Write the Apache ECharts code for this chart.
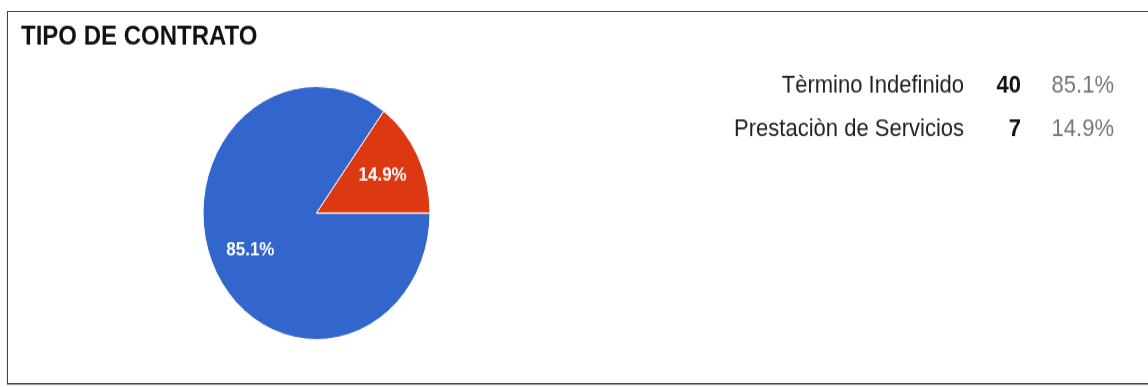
<!DOCTYPE html>
<html>
<head>
<meta charset="utf-8">
<script src="https://cdn.jsdelivr.net/npm/echarts@6/dist/echarts.min.js"></script>
<style>
  html, body { margin: 0; padding: 0; background: #fff; }
  #frame { position: absolute; left: 7px; top: 11px; width: 1160px; height: 371px; border: 1px solid #444; box-shadow: 0 1px 1px #999; }
  #pie { position: absolute; left: 0; top: 0; width: 1148px; height: 347px; transform: scaleY(1.1153); transform-origin: 0 0; }
</style>
</head>
<body>
<div id="frame"></div>
<div id="pie"></div>
<script>
var categories = ['Tèrmino Indefinido', 'Prestaciòn de Servicios'];
var counts = [40, 7];
var colors = ['#3366cc', '#dc3912'];

var total = counts.reduce((a, b) => a + b, 0);
var pct = counts.map(v => (v / total * 100).toFixed(1) + '%');
var cx = 316.5, cy = 191;
var font = '"Liberation Sans", Arial, sans-serif';

var pie = echarts.init(document.getElementById('pie'));
var option = {
  animation: false,
  title: {
    text: 'TIPO DE CONTRATO',
    left: 16,
    top: 16,
    textStyle: { fontFamily: font, fontSize: 24, fontWeight: 'bold', color: '#111' }
  },
  legend: {
    orient: 'vertical',
    left: 707,
    top: 61,
    itemWidth: 0,
    itemHeight: 0,
    icon: 'none',
    itemGap: 16.5,
    selectedMode: false,
    data: categories,
    formatter: function (name) {
      var i = categories.indexOf(name);
      return '{n|' + name + '}{v|' + counts[i] + '}{p|' + pct[i] + '}';
    },
    textStyle: {
      fontFamily: font,
      rich: {
        n: { width: 247, align: 'right', fontFamily: font, fontSize: 22, color: '#222', lineHeight: 26 },
        v: { width: 57, align: 'right', fontFamily: font, fontSize: 22, fontWeight: 'bold', color: '#111', lineHeight: 26 },
        p: { width: 93, align: 'right', fontFamily: font, fontSize: 22, color: '#777', lineHeight: 26 }
      }
    }
  },
  series: [{
    type: 'pie',
    center: [cx, cy],
    radius: 113.5,
    startAngle: 0,
    clockwise: true,
    percentPrecision: 1,
    itemStyle: { borderColor: '#fff', borderWidth: 1 },
    label: {
      position: 'inside',
      formatter: '{d}%',
      color: '#fff',
      fontFamily: font,
      fontSize: 17,
      fontWeight: 'bold'
    },
    labelLayout: function (params) {
      var r = params.labelRect;
      var mx = r.x + r.width / 2, my = r.y + r.height / 2;
      var k = 1.24;
      return { x: cx + (mx - cx) * k, y: cy + (my - cy) * k, align: 'center', verticalAlign: 'middle' };
    },
    emphasis: { disabled: true },
    data: categories.map((c, i) => ({ name: c, value: counts[i], itemStyle: { color: colors[i] } }))
  }]
};
pie.setOption(option);
</script>
</body>
</html>
